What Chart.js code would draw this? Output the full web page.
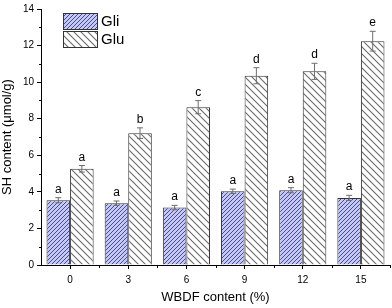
<!DOCTYPE html>
<html>
  <head>
    <meta charset="utf-8" />
    <title>SH content</title>
    <script src="https://cdn.jsdelivr.net/npm/chart.js"></script>
    <style>
      html, body { margin: 0; padding: 0; background: #fff; }
      #wrap { width: 392px; height: 308px; }
    </style>
  </head>
  <body>
    <div id="wrap"><canvas id="myChart"></canvas></div>
    <script>
      const categories = ["0", "3", "6", "9", "12", "15"];
      const gli = [3.54, 3.38, 3.14, 4.03, 4.09, 3.67];
      const gliErr = [0.14, 0.12, 0.12, 0.12, 0.14, 0.14];
      const glu = [5.26, 7.21, 8.63, 10.35, 10.59, 12.24];
      const gluErr = [0.18, 0.29, 0.36, 0.44, 0.44, 0.54];
      const gliLetters = ["a", "a", "a", "a", "a", "a"];
      const gluLetters = ["a", "b", "c", "d", "d", "e"];
      const yTicks = [0, 2, 4, 6, 8, 10, 12, 14];

      const FONT = "'Liberation Sans', Arial, sans-serif";

      // hatch fills
      function makePattern(size, bg, fg, lw, dir) {
        const c = document.createElement("canvas");
        c.width = c.height = size;
        const g = c.getContext("2d");
        g.fillStyle = bg;
        g.fillRect(0, 0, size, size);
        g.strokeStyle = fg;
        g.lineWidth = lw;
        g.beginPath();
        if (dir === "/") {
          g.moveTo(-1, size + 1); g.lineTo(size + 1, -1);
          g.moveTo(-1, 1); g.lineTo(1, -1);
          g.moveTo(size - 1, size + 1); g.lineTo(size + 1, size - 1);
        } else {
          g.moveTo(-1, -1); g.lineTo(size + 1, size + 1);
          g.moveTo(size - 1, -1); g.lineTo(size + 1, 1);
          g.moveTo(-1, size - 1); g.lineTo(1, size + 1);
        }
        g.stroke();
        return g.createPattern(c, "repeat");
      }
      const gliFill = makePattern(4, "#c4c8f2", "#3a3e8c", 0.9, "/");
      const gluFill = makePattern(7, "#ffffff", "#6a6a6a", 1.1, "\\");

      const errors = [gliErr, gluErr];
      const letters = [gliLetters, gluLetters];

      const extras = {
        id: "extras",
        afterDatasetsDraw(chart) {
          const ctx = chart.ctx;
          const y = chart.scales.y;
          const x = chart.scales.x;
          ctx.save();
          // error bars + letters
          chart.data.datasets.forEach((ds, i) => {
            chart.getDatasetMeta(i).data.forEach((bar, j) => {
              const v = ds.data[j], e = errors[i][j];
              const top = y.getPixelForValue(v + e);
              const bot = y.getPixelForValue(v - e);
              ctx.strokeStyle = "#6e6e6e";
              ctx.lineWidth = 1;
              ctx.beginPath();
              ctx.moveTo(bar.x, top); ctx.lineTo(bar.x, bot);
              ctx.moveTo(bar.x - 3, top); ctx.lineTo(bar.x + 3, top);
              ctx.moveTo(bar.x - 3, bot); ctx.lineTo(bar.x + 3, bot);
              ctx.stroke();
              ctx.fillStyle = "#000";
              ctx.font = "12px " + FONT;
              ctx.textAlign = "center";
              ctx.textBaseline = "alphabetic";
              ctx.fillText(letters[i][j], bar.x, top - 5);
            });
          });
          // minor ticks
          ctx.strokeStyle = "#000";
          ctx.lineWidth = 1;
          ctx.beginPath();
          const w = (x.right - x.left) / categories.length;
          for (let k = 1; k <= categories.length; k++) {
            const px = Math.round(x.left + k * w) + 0.5;
            ctx.moveTo(px, x.top); ctx.lineTo(px, x.top + 3);
          }
          for (let v = 1; v < 14; v += 2) {
            const py = Math.round(y.getPixelForValue(v)) + 0.5;
            ctx.moveTo(y.right, py); ctx.lineTo(y.right - 2, py);
          }
          ctx.stroke();
          // legend
          const fills = [gliFill, gluFill];
          chart.data.datasets.forEach((ds, i) => {
            const bx = 63, by = 13 + i * 18;
            ctx.fillStyle = fills[i];
            ctx.fillRect(bx, by, 34, 16);
            ctx.strokeStyle = "#333";
            ctx.strokeRect(bx + 0.5, by + 0.5, 34, 16);
            ctx.fillStyle = "#000";
            ctx.font = "15px " + FONT;
            ctx.textAlign = "left";
            ctx.textBaseline = "middle";
            ctx.fillText(ds.label, 101, by + 9);
          });
          ctx.restore();
        },
      };

      const data = {
        labels: categories,
        datasets: [
          {
            label: "Gli",
            data: gli,
            backgroundColor: gliFill,
            borderColor: "#333",
            borderWidth: 1,
          },
          {
            label: "Glu",
            data: glu,
            backgroundColor: gluFill,
            borderColor: "#333",
            borderWidth: 1,
          },
        ],
      };

      const config = {
        type: "bar",
        data: data,
        options: {
          responsive: true,
          maintainAspectRatio: false,
          animation: false,
          categoryPercentage: 0.81,
          barPercentage: 1,
          layout: { padding: { top: 7, right: 2, left: 0, bottom: 0 } },
          plugins: {
            legend: { display: false },
            tooltip: { enabled: false },
          },
          scales: {
            x: {
              offset: true,
              grid: {
                offset: false,
                drawOnChartArea: false,
                tickLength: 4,
                color: "#000",
              },
              border: { color: "#000", width: 1 },
              ticks: { color: "#000", font: { size: 10, family: FONT }, padding: 5 },
              title: {
                display: true,
                text: "WBDF content (%)",
                color: "#000",
                font: { size: 13, family: FONT },
                padding: { top: 0, bottom: 3 },
              },
              afterFit(s) { s.height = 43; },
            },
            y: {
              min: 0,
              max: 14,
              afterBuildTicks(s) { s.ticks = yTicks.map((v) => ({ value: v })); },
              grid: {
                drawOnChartArea: false,
                tickLength: 4,
                color: "#000",
              },
              border: { color: "#000", width: 1 },
              ticks: { color: "#000", font: { size: 10, family: FONT }, padding: 3 },
              title: {
                display: true,
                text: "SH content (μmol/g)",
                color: "#000",
                font: { size: 13, family: FONT },
                padding: { top: 0, bottom: 0 },
              },
              afterFit(s) { s.width = 41; },
            },
          },
        },
        plugins: [extras],
      };

      const myChart = new Chart(document.getElementById("myChart"), config);
    </script>
  </body>
</html>
